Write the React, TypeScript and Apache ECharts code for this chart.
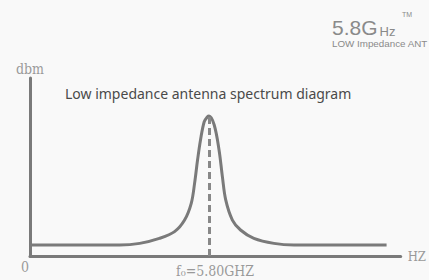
import React, { useEffect, useRef } from "react";
import * as echarts from "echarts";

// Frequency axis (relative units, 0..100) and level (dbm, relative 0..100)
const freq = [0, 24.2, 29.6, 34.9, 39.0, 41.7, 43.5, 44.4, 45.2, 46.0, 47.0, 47.9, 48.3, 49.7, 51.0, 51.9, 52.8, 54.6, 56.8, 60.4, 65.8, 71.2, 96.2];
const level = [6.2, 6.2, 7.1, 9.9, 13.7, 20.2, 29.6, 40.8, 53.9, 65.2, 75.4, 78.3, 78.7, 73.6, 59.6, 44.6, 31.5, 20.2, 14.6, 9.9, 7.1, 6.2, 6.2];
const peakFreq = 48.3;
const peakLevel = 78.7;
const centerLabel = "f\u2080=5.80GHZ";
const titleText = "Low impedance antenna spectrum diagram";
const xName = "HZ";
const yName = "dbm";
const originLabel = "0";

const GRAY = "#7a7a7a";
const SERIF = "'DejaVu Serif Condensed', 'Liberation Serif', serif";
const SANS = "'Liberation Sans', Arial, sans-serif";
const LOGO = "#8a8a8a";

export default function App() {
  const ref = useRef<HTMLDivElement>(null);
  useEffect(() => {
    if (!ref.current) return;
    const chart = echarts.init(ref.current, null, { renderer: "svg" });
    const data = freq.map((f, i) => [f, level[i]]);
    chart.setOption({
      animation: false,
      backgroundColor: "#f9f9f9",
      grid: { left: 30, right: 27, top: 78, bottom: 24, containLabel: false },
      title: {
        text: titleText,
        left: 65,
        top: 86,
        padding: 0,
        textStyle: { fontFamily: "'Noto Sans', sans-serif", fontSize: 14, fontWeight: "normal", color: "#4a4a4a" },
      },
      graphic: [
        {
          type: "text",
          left: 332,
          top: 17,
          style: {
            text: "{a|5.8G}{b|Hz}\n{c|LOW Impedance ANT}",
            fill: LOGO,
            rich: {
              a: { fontFamily: SANS, fontSize: 21, lineHeight: 13, verticalAlign: "bottom", fill: LOGO },
              b: { fontFamily: SANS, fontSize: 13, lineHeight: 7, verticalAlign: "bottom", fill: LOGO, padding: [0, 0, 0, 2] },
              c: { fontFamily: SANS, fontSize: 9.8, lineHeight: 10, fill: LOGO },
            },
          },
        },
        { type: "text", left: 402, top: 11, style: { text: "TM", fontFamily: SANS, fontSize: 7, lineHeight: 6, fill: LOGO } },
      ],
      xAxis: {
        type: "value",
        min: 0,
        max: 100,
        interval: 100,
        name: xName,
        nameLocation: "end",
        nameGap: 7,
        nameTextStyle: { fontFamily: SERIF, fontSize: 13, color: "#999", padding: [3, 0, 0, 0] },
        axisLine: { show: true, lineStyle: { color: GRAY, width: 3 } },
        axisTick: { show: false },
        splitLine: { show: false },
        axisLabel: {
          formatter: (v: number) => (v === 0 ? originLabel : ""),
          fontFamily: SERIF,
          fontSize: 14,
          color: "#999",
          margin: 4,
          padding: [0, 10, 0, 0],
        },
      },
      yAxis: {
        type: "value",
        min: 0,
        max: 100,
        name: yName,
        nameLocation: "end",
        nameGap: 2,
        nameTextStyle: { fontFamily: SERIF, fontSize: 14, color: "#999" },
        axisLine: { show: true, lineStyle: { color: GRAY, width: 3 } },
        axisTick: { show: false },
        axisLabel: { show: false },
        splitLine: { show: false },
      },
      series: [
        {
          type: "line",
          data,
          smooth: 0.35,
          symbol: "none",
          lineStyle: { color: GRAY, width: 3 },
          markLine: {
            silent: true,
            symbol: "none",
            lineStyle: { color: "#888", width: 3, type: [7, 4] },
            label: {
              show: true,
              position: "start",
              distance: 8,
              formatter: centerLabel,
              fontFamily: SERIF,
              fontSize: 14,
              lineHeight: 14,
              color: "#999",
              padding: [0, 0, 0, 12],
            },
            data: [[{ coord: [peakFreq, 0] }, { coord: [peakFreq, peakLevel] }]],
          },
        },
      ],
    });
    return () => chart.dispose();
  }, []);
  return <div ref={ref} style={{ position: "absolute", left: 0, top: 0, width: 429, height: 280 }} />;
}
